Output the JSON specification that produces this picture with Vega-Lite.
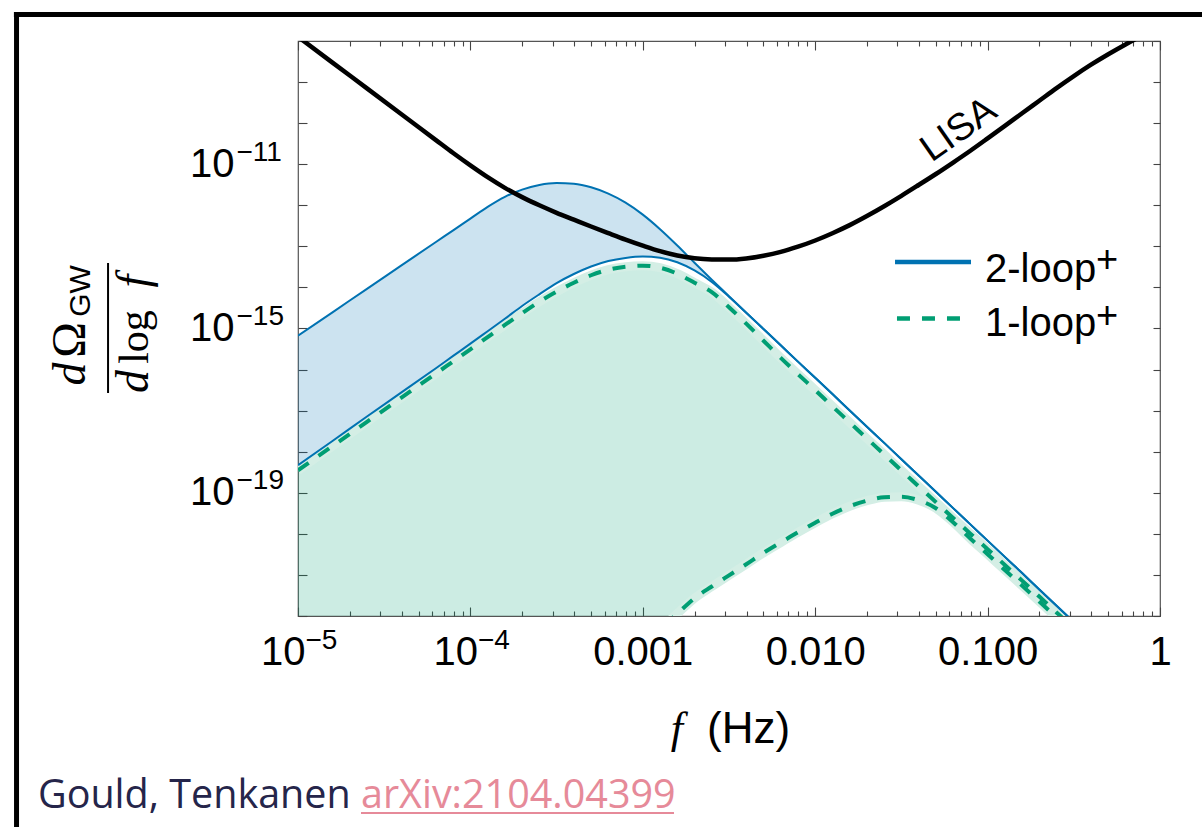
{
  "$schema": "https://vega.github.io/schema/vega-lite/v6.json",
  "width": 862,
  "height": 575,
  "autosize": {"type": "none"},
  "padding": {"left": 298, "top": 41, "right": 42, "bottom": 211},
  "background": "white",
  "config": {
    "view": {"stroke": "#555555", "strokeWidth": 1.2},
    "axis": {"domain": false, "grid": false, "tickColor": "#444444", "tickWidth": 1.1, "labelFont": "Liberation Sans", "labelFontSize": 40, "labelColor": "#000000", "labelOverlap": false, "labelFlush": false, "title": null},
    "text": {"font": "Liberation Sans", "color": "#000000"}
  },
  "resolve": {"axis": {"x": "independent", "y": "independent"}},
  "datasets": {
    "bands": [
      {"f": 1e-5, "series": "2-loop⁺", "hi": 6.67e-16, "lo": 4.69e-19},
      {"f": 1.585e-5, "series": "2-loop⁺", "hi": 2.48e-15, "lo": 1.82e-18},
      {"f": 2.512e-5, "series": "2-loop⁺", "hi": 9.26e-15, "lo": 7.19e-18},
      {"f": 3.981e-5, "series": "2-loop⁺", "hi": 3.44e-14, "lo": 2.78e-17},
      {"f": 6.31e-5, "series": "2-loop⁺", "hi": 1.28e-13, "lo": 1.08e-16},
      {"f": 7.943e-5, "series": "2-loop⁺", "hi": 2.46e-13, "lo": 2.15e-16},
      {"f": 1e-4, "series": "2-loop⁺", "hi": 4.74e-13, "lo": 4.27e-16},
      {"f": 1.259e-4, "series": "2-loop⁺", "hi": 9.13e-13, "lo": 8.59e-16},
      {"f": 1.585e-4, "series": "2-loop⁺", "hi": 1.6e-12, "lo": 1.73e-15},
      {"f": 1.995e-4, "series": "2-loop⁺", "hi": 2.4e-12, "lo": 3.53e-15},
      {"f": 2.512e-4, "series": "2-loop⁺", "hi": 3.11e-12, "lo": 6.79e-15},
      {"f": 3.162e-4, "series": "2-loop⁺", "hi": 3.47e-12, "lo": 1.27e-14},
      {"f": 3.981e-4, "series": "2-loop⁺", "hi": 3.33e-12, "lo": 2.12e-14},
      {"f": 5.012e-4, "series": "2-loop⁺", "hi": 2.74e-12, "lo": 3.23e-14},
      {"f": 6.31e-4, "series": "2-loop⁺", "hi": 1.92e-12, "lo": 4.4e-14},
      {"f": 7.943e-4, "series": "2-loop⁺", "hi": 1.16e-12, "lo": 5.24e-14},
      {"f": 1e-3, "series": "2-loop⁺", "hi": 5.93e-13, "lo": 5.66e-14},
      {"f": 1.259e-3, "series": "2-loop⁺", "hi": 2.62e-13, "lo": 5.3e-14},
      {"f": 1.585e-3, "series": "2-loop⁺", "hi": 1.05e-13, "lo": 4.11e-14},
      {"f": 1.995e-3, "series": "2-loop⁺", "hi": 3.98e-14, "lo": 2.59e-14},
      {"f": 2.512e-3, "series": "2-loop⁺", "hi": 1.54e-14, "lo": 1.36e-14},
      {"f": 3.162e-3, "series": "2-loop⁺", "hi": 6.11e-15, "lo": 5.94e-15},
      {"f": 3.981e-3, "series": "2-loop⁺", "hi": 2.42e-15, "lo": 2.42e-15},
      {"f": 5.012e-3, "series": "2-loop⁺", "hi": 9.72e-16, "lo": 9.72e-16},
      {"f": 6.31e-3, "series": "2-loop⁺", "hi": 3.9e-16, "lo": 3.9e-16},
      {"f": 7.943e-3, "series": "2-loop⁺", "hi": 1.56e-16, "lo": 1.56e-16},
      {"f": 0.01, "series": "2-loop⁺", "hi": 6.3e-17, "lo": 6.3e-17},
      {"f": 0.01259, "series": "2-loop⁺", "hi": 2.53e-17, "lo": 2.53e-17},
      {"f": 0.01585, "series": "2-loop⁺", "hi": 1.01e-17, "lo": 1.01e-17},
      {"f": 0.01995, "series": "2-loop⁺", "hi": 4.06e-18, "lo": 4.06e-18},
      {"f": 0.02512, "series": "2-loop⁺", "hi": 1.64e-18, "lo": 1.64e-18},
      {"f": 0.03162, "series": "2-loop⁺", "hi": 6.53e-19, "lo": 6.53e-19},
      {"f": 0.03981, "series": "2-loop⁺", "hi": 2.63e-19, "lo": 2.63e-19},
      {"f": 0.05012, "series": "2-loop⁺", "hi": 1.06e-19, "lo": 1.06e-19},
      {"f": 0.0631, "series": "2-loop⁺", "hi": 4.23e-20, "lo": 4.23e-20},
      {"f": 0.07943, "series": "2-loop⁺", "hi": 1.7e-20, "lo": 1.7e-20},
      {"f": 0.1, "series": "2-loop⁺", "hi": 6.84e-21, "lo": 6.84e-21},
      {"f": 0.1259, "series": "2-loop⁺", "hi": 2.75e-21, "lo": 2.75e-21},
      {"f": 0.1585, "series": "2-loop⁺", "hi": 1.11e-21, "lo": 1.11e-21},
      {"f": 0.1995, "series": "2-loop⁺", "hi": 4.41e-22, "lo": 4.41e-22},
      {"f": 0.2512, "series": "2-loop⁺", "hi": 1.78e-22, "lo": 1.78e-22},
      {"f": 0.3162, "series": "2-loop⁺", "hi": 7.13e-23, "lo": 7.13e-23},
      {"f": 1e-5, "series": "1-loop⁺", "hi": 3.54e-19, "lo": 2.6e-29},
      {"f": 1.585e-5, "series": "1-loop⁺", "hi": 1.37e-18, "lo": 9.8e-29},
      {"f": 2.512e-5, "series": "1-loop⁺", "hi": 5.32e-18, "lo": 3.6e-28},
      {"f": 3.981e-5, "series": "1-loop⁺", "hi": 2.07e-17, "lo": 1.35e-27},
      {"f": 6.31e-5, "series": "1-loop⁺", "hi": 8.02e-17, "lo": 5.0e-27},
      {"f": 1e-4, "series": "1-loop⁺", "hi": 3.11e-16, "lo": 1.9e-26},
      {"f": 1.259e-4, "series": "1-loop⁺", "hi": 6.17e-16, "lo": 3.6e-26},
      {"f": 1.585e-4, "series": "1-loop⁺", "hi": 1.22e-15, "lo": 7.1e-26},
      {"f": 1.995e-4, "series": "1-loop⁺", "hi": 2.36e-15, "lo": 1.4e-25},
      {"f": 2.512e-4, "series": "1-loop⁺", "hi": 4.49e-15, "lo": 2.7e-25},
      {"f": 3.162e-4, "series": "1-loop⁺", "hi": 7.87e-15, "lo": 5.2e-25},
      {"f": 3.981e-4, "series": "1-loop⁺", "hi": 1.3e-14, "lo": 1.05e-24},
      {"f": 5.012e-4, "series": "1-loop⁺", "hi": 1.98e-14, "lo": 2.1e-24},
      {"f": 6.31e-4, "series": "1-loop⁺", "hi": 2.7e-14, "lo": 4.3e-24},
      {"f": 7.943e-4, "series": "1-loop⁺", "hi": 3.19e-14, "lo": 8.9e-24},
      {"f": 1e-3, "series": "1-loop⁺", "hi": 3.38e-14, "lo": 1.89e-23},
      {"f": 1.259e-3, "series": "1-loop⁺", "hi": 3.02e-14, "lo": 4.76e-23},
      {"f": 1.585e-3, "series": "1-loop⁺", "hi": 2.16e-14, "lo": 1.14e-22},
      {"f": 1.995e-3, "series": "1-loop⁺", "hi": 1.3e-14, "lo": 2.71e-22},
      {"f": 2.512e-3, "series": "1-loop⁺", "hi": 7.66e-15, "lo": 5.22e-22},
      {"f": 3.162e-3, "series": "1-loop⁺", "hi": 3.3e-15, "lo": 9.77e-22},
      {"f": 3.981e-3, "series": "1-loop⁺", "hi": 1.31e-15, "lo": 1.82e-21},
      {"f": 5.012e-3, "series": "1-loop⁺", "hi": 5.04e-16, "lo": 3.45e-21},
      {"f": 6.31e-3, "series": "1-loop⁺", "hi": 1.93e-16, "lo": 6.15e-21},
      {"f": 7.943e-3, "series": "1-loop⁺", "hi": 7.76e-17, "lo": 1.09e-20},
      {"f": 0.01, "series": "1-loop⁺", "hi": 3.16e-17, "lo": 1.87e-20},
      {"f": 0.01259, "series": "1-loop⁺", "hi": 1.27e-17, "lo": 3.09e-20},
      {"f": 0.01585, "series": "1-loop⁺", "hi": 5.17e-18, "lo": 4.71e-20},
      {"f": 0.01995, "series": "1-loop⁺", "hi": 2.1e-18, "lo": 6.41e-20},
      {"f": 0.02512, "series": "1-loop⁺", "hi": 8.6e-19, "lo": 7.8e-20},
      {"f": 0.03162, "series": "1-loop⁺", "hi": 3.49e-19, "lo": 8.02e-20},
      {"f": 0.03981, "series": "1-loop⁺", "hi": 1.44e-19, "lo": 6.59e-20},
      {"f": 0.05012, "series": "1-loop⁺", "hi": 5.93e-20, "lo": 4.21e-20},
      {"f": 0.0631, "series": "1-loop⁺", "hi": 2.44e-20, "lo": 1.92e-20},
      {"f": 0.07943, "series": "1-loop⁺", "hi": 1.01e-20, "lo": 7.66e-21},
      {"f": 0.1, "series": "1-loop⁺", "hi": 4.23e-21, "lo": 3.19e-21},
      {"f": 0.1259, "series": "1-loop⁺", "hi": 1.75e-21, "lo": 1.32e-21},
      {"f": 0.1585, "series": "1-loop⁺", "hi": 7.27e-22, "lo": 5.49e-22},
      {"f": 0.1995, "series": "1-loop⁺", "hi": 2.98e-22, "lo": 2.25e-22},
      {"f": 0.2512, "series": "1-loop⁺", "hi": 1.22e-22, "lo": 9.18e-23},
      {"f": 0.3162, "series": "1-loop⁺", "hi": 4.96e-23, "lo": 3.75e-23}
    ],
    "lisa": [
      {"f": 1e-5, "omega": 1.27e-8},
      {"f": 1.585e-5, "omega": 2.98e-9},
      {"f": 2.512e-5, "omega": 7.02e-10},
      {"f": 3.981e-5, "omega": 1.65e-10},
      {"f": 6.31e-5, "omega": 3.86e-11},
      {"f": 7.943e-5, "omega": 1.87e-11},
      {"f": 1e-4, "omega": 9.35e-12},
      {"f": 1.259e-4, "omega": 4.83e-12},
      {"f": 1.585e-4, "omega": 2.66e-12},
      {"f": 1.995e-4, "omega": 1.58e-12},
      {"f": 2.512e-4, "omega": 9.99e-13},
      {"f": 3.162e-4, "omega": 6.56e-13},
      {"f": 3.981e-4, "omega": 4.46e-13},
      {"f": 5.012e-4, "omega": 3.04e-13},
      {"f": 6.31e-4, "omega": 2.1e-13},
      {"f": 7.943e-4, "omega": 1.46e-13},
      {"f": 1e-3, "omega": 1.04e-13},
      {"f": 1.259e-3, "omega": 7.62e-14},
      {"f": 1.585e-3, "omega": 6.0e-14},
      {"f": 1.995e-3, "omega": 5.15e-14},
      {"f": 2.512e-3, "omega": 4.81e-14},
      {"f": 3.162e-3, "omega": 4.76e-14},
      {"f": 3.981e-3, "omega": 5.09e-14},
      {"f": 5.012e-3, "omega": 5.92e-14},
      {"f": 6.31e-3, "omega": 7.32e-14},
      {"f": 7.943e-3, "omega": 9.81e-14},
      {"f": 0.01, "omega": 1.39e-13},
      {"f": 0.01259, "omega": 2.09e-13},
      {"f": 0.01585, "omega": 3.29e-13},
      {"f": 0.01995, "omega": 5.48e-13},
      {"f": 0.02512, "omega": 9.5e-13},
      {"f": 0.03162, "omega": 1.7e-12},
      {"f": 0.03981, "omega": 3.12e-12},
      {"f": 0.05012, "omega": 5.78e-12},
      {"f": 0.0631, "omega": 1.1e-11},
      {"f": 0.07943, "omega": 2.13e-11},
      {"f": 0.1, "omega": 4.25e-11},
      {"f": 0.1259, "omega": 8.57e-11},
      {"f": 0.1585, "omega": 1.74e-10},
      {"f": 0.1995, "omega": 3.52e-10},
      {"f": 0.2512, "omega": 7.13e-10},
      {"f": 0.3162, "omega": 1.4e-9},
      {"f": 0.3981, "omega": 2.65e-9},
      {"f": 0.5012, "omega": 4.77e-9},
      {"f": 0.631, "omega": 8.26e-9},
      {"f": 0.7943, "omega": 1.38e-8},
      {"f": 1, "omega": 2.28e-8}
    ]
  },
  "layer": [
    {
      "data": {"name": "bands"},
      "mark": {"type": "area", "clip": true, "interpolate": "monotone", "fillOpacity": 0.2},
      "encoding": {
        "x": {"field": "f", "type": "quantitative", "scale": {"type": "log", "domain": [1e-5, 1], "nice": false},
          "axis": {"orient": "bottom", "values": [1e-5, 1e-4, 0.001, 0.01, 0.1, 1], "tickSize": -9, "labelPadding": 25,
            "labelAlign": {"condition": {"test": "datum.value < 0.0005", "value": "right"}, "value": "center"},
            "labelOffset": {"condition": {"test": "datum.value < 0.0005", "value": 7}, "value": 0},
            "labelExpr": "datum.value < 0.0005 ? '10' : datum.value < 0.002 ? '0.001' : datum.value < 0.02 ? '0.010' : datum.value < 0.2 ? '0.100' : '1'"}},
        "y": {"field": "hi", "type": "quantitative", "stack": null, "scale": {"type": "log", "domain": [1e-22, 1e-8], "nice": false},
          "axis": {"orient": "left", "tickSize": -9, "labelPadding": 73,
            "values": [1e-22, 1e-21, 1e-20, 1e-19, 1e-18, 1e-17, 1e-16, 1e-15, 1e-14, 1e-13, 1e-12, 1e-11, 1e-10, 1e-9, 1e-8],
            "labelExpr": "round(log(datum.value) / LN10) == -11 || round(log(datum.value) / LN10) == -15 || round(log(datum.value) / LN10) == -19 ? '10' : ''"}},
        "y2": {"field": "lo"},
        "fill": {"field": "series", "type": "nominal", "scale": {"domain": ["2-loop⁺", "1-loop⁺"], "range": ["#0072B2", "#009E73"]}, "legend": null}
      }
    },
    {
      "data": {"name": "bands"},
      "transform": [
        {"filter": {"field": "series", "equal": "1-loop⁺"}},
        {"fold": ["hi", "lo"], "as": ["bound", "omega"]}
      ],
      "mark": {"type": "line", "clip": true, "interpolate": "monotone", "color": "#d4eee5", "strokeWidth": 9},
      "encoding": {
        "x": {"field": "f", "type": "quantitative", "scale": {"type": "log", "domain": [1e-5, 1], "nice": false},
          "axis": {"orient": "bottom", "labels": false, "tickSize": -5,
            "values": [2e-5, 3e-5, 4e-5, 5e-5, 6e-5, 7e-5, 8e-5, 9e-5, 2e-4, 3e-4, 4e-4, 5e-4, 6e-4, 7e-4, 8e-4, 9e-4, 0.002, 0.003, 0.004, 0.005, 0.006, 0.007, 0.008, 0.009, 0.02, 0.03, 0.04, 0.05, 0.06, 0.07, 0.08, 0.09, 0.2, 0.3, 0.4, 0.5, 0.6, 0.7, 0.8, 0.9]}},
        "y": {"field": "omega", "type": "quantitative", "scale": {"type": "log", "domain": [1e-22, 1e-8], "nice": false},
          "axis": {"orient": "right", "labels": false, "tickSize": -7,
            "values": [1e-22, 1e-21, 1e-20, 1e-19, 1e-18, 1e-17, 1e-16, 1e-15, 1e-14, 1e-13, 1e-12, 1e-11, 1e-10, 1e-9, 1e-8]}},
        "detail": {"field": "bound"}
      }
    },
    {
      "data": {"name": "bands"},
      "transform": [
        {"filter": {"field": "series", "equal": "2-loop⁺"}},
        {"fold": ["hi", "lo"], "as": ["bound", "omega"]}
      ],
      "mark": {"type": "line", "clip": true, "interpolate": "monotone", "strokeWidth": 2},
      "encoding": {
        "x": {"field": "f", "type": "quantitative", "scale": {"type": "log", "domain": [1e-5, 1], "nice": false},
          "axis": {"orient": "top", "labels": false, "tickSize": -9, "values": [1e-5, 1e-4, 0.001, 0.01, 0.1, 1]}},
        "y": {"field": "omega", "type": "quantitative", "scale": {"type": "log", "domain": [1e-22, 1e-8], "nice": false},
          "axis": {"orient": "left", "ticks": false, "values": [1e-19, 1e-15, 1e-11], "labelAlign": "left", "labelPadding": 62, "labelOffset": -12, "labelFontSize": 28,
            "labelExpr": "round(log(datum.value) / LN10) == -11 ? '−11' : round(log(datum.value) / LN10) == -15 ? '−15' : '−19'"}},
        "detail": {"field": "bound"},
        "color": {"field": "series", "type": "nominal", "scale": {"domain": ["2-loop⁺", "1-loop⁺"], "range": ["#0072B2", "#009E73"]}, "legend": null}
      }
    },
    {
      "data": {"name": "bands"},
      "transform": [
        {"filter": {"field": "series", "equal": "1-loop⁺"}},
        {"fold": ["hi", "lo"], "as": ["bound", "omega"]}
      ],
      "mark": {"type": "line", "clip": true, "interpolate": "monotone", "strokeWidth": 4, "strokeDash": [13, 12]},
      "encoding": {
        "x": {"field": "f", "type": "quantitative", "scale": {"type": "log", "domain": [1e-5, 1], "nice": false},
          "axis": {"orient": "top", "labels": false, "tickSize": -5,
            "values": [2e-5, 3e-5, 4e-5, 5e-5, 6e-5, 7e-5, 8e-5, 9e-5, 2e-4, 3e-4, 4e-4, 5e-4, 6e-4, 7e-4, 8e-4, 9e-4, 0.002, 0.003, 0.004, 0.005, 0.006, 0.007, 0.008, 0.009, 0.02, 0.03, 0.04, 0.05, 0.06, 0.07, 0.08, 0.09, 0.2, 0.3, 0.4, 0.5, 0.6, 0.7, 0.8, 0.9]}},
        "y": {"field": "omega", "type": "quantitative", "scale": {"type": "log", "domain": [1e-22, 1e-8], "nice": false}, "axis": null},
        "detail": {"field": "bound"},
        "color": {"field": "series", "type": "nominal", "scale": {"domain": ["2-loop⁺", "1-loop⁺"], "range": ["#0072B2", "#009E73"]}, "legend": null}
      }
    },
    {
      "data": {"name": "lisa"},
      "mark": {"type": "line", "clip": true, "interpolate": "monotone", "color": "#000000", "strokeWidth": 4.5},
      "encoding": {
        "x": {"field": "f", "type": "quantitative", "scale": {"type": "log", "domain": [1e-5, 1], "nice": false},
          "axis": {"orient": "bottom", "ticks": false, "values": [1e-5, 1e-4], "labelAlign": "left", "labelOffset": 7, "labelPadding": 10, "labelFontSize": 28,
            "labelExpr": "datum.value < 0.00005 ? '−5' : '−4'"}},
        "y": {"field": "omega", "type": "quantitative", "scale": {"type": "log", "domain": [1e-22, 1e-8], "nice": false}, "axis": null}
      }
    },
    {
      "data": {"values": [{"label": "LISA"}]},
      "mark": {"type": "text", "angle": 325, "fontSize": 38, "align": "center", "baseline": "middle"},
      "encoding": {
        "x": {"datum": 0.0682, "type": "quantitative", "scale": {"type": "log", "domain": [1e-5, 1], "nice": false}, "axis": null},
        "y": {"datum": 6.81e-11, "type": "quantitative", "scale": {"type": "log", "domain": [1e-22, 1e-8], "nice": false}, "axis": null},
        "text": {"field": "label"}
      }
    },
    {
      "data": {"values": [{"series": "2-loop⁺"}]},
      "mark": {"type": "rule", "color": "#0072B2", "strokeWidth": 4.5},
      "encoding": {
        "x": {"datum": 0.02904, "type": "quantitative", "scale": {"type": "log", "domain": [1e-5, 1], "nice": false}, "axis": null},
        "x2": {"datum": 0.08012},
        "y": {"datum": 4.16e-14, "type": "quantitative", "scale": {"type": "log", "domain": [1e-22, 1e-8], "nice": false}, "axis": null}
      }
    },
    {
      "data": {"values": [{"series": "1-loop⁺"}]},
      "mark": {"type": "rule", "color": "#009E73", "strokeWidth": 4.5, "strokeDash": [13, 12]},
      "encoding": {
        "x": {"datum": 0.02981, "type": "quantitative", "scale": {"type": "log", "domain": [1e-5, 1], "nice": false}, "axis": null},
        "x2": {"datum": 0.0692},
        "y": {"datum": 1.75e-15, "type": "quantitative", "scale": {"type": "log", "domain": [1e-22, 1e-8], "nice": false}, "axis": null}
      }
    },
    {
      "data": {"values": [{"label": "2-loop"}]},
      "mark": {"type": "text", "fontSize": 40, "align": "left", "baseline": "alphabetic"},
      "encoding": {
        "x": {"datum": 0.0966, "type": "quantitative", "scale": {"type": "log", "domain": [1e-5, 1], "nice": false}, "axis": null},
        "y": {"datum": 1.355e-14, "type": "quantitative", "scale": {"type": "log", "domain": [1e-22, 1e-8], "nice": false}, "axis": null},
        "text": {"field": "label"}
      }
    },
    {
      "data": {"values": [{"label": "1-loop"}]},
      "mark": {"type": "text", "fontSize": 40, "align": "left", "baseline": "alphabetic"},
      "encoding": {
        "x": {"datum": 0.0966, "type": "quantitative", "scale": {"type": "log", "domain": [1e-5, 1], "nice": false}, "axis": null},
        "y": {"datum": 6.56e-16, "type": "quantitative", "scale": {"type": "log", "domain": [1e-22, 1e-8], "nice": false}, "axis": null},
        "text": {"field": "label"}
      }
    },
    {
      "data": {"values": [{"label": "+"}]},
      "mark": {"type": "text", "fontSize": 38, "align": "left", "baseline": "alphabetic"},
      "encoding": {
        "x": {"datum": 0.4253, "type": "quantitative", "scale": {"type": "log", "domain": [1e-5, 1], "nice": false}, "axis": null},
        "y": {"datum": 2.44e-14, "type": "quantitative", "scale": {"type": "log", "domain": [1e-22, 1e-8], "nice": false}, "axis": null},
        "text": {"field": "label"}
      }
    },
    {
      "data": {"values": [{"label": "+"}]},
      "mark": {"type": "text", "fontSize": 38, "align": "left", "baseline": "alphabetic"},
      "encoding": {
        "x": {"datum": 0.4253, "type": "quantitative", "scale": {"type": "log", "domain": [1e-5, 1], "nice": false}, "axis": null},
        "y": {"datum": 1.03e-15, "type": "quantitative", "scale": {"type": "log", "domain": [1e-22, 1e-8], "nice": false}, "axis": null},
        "text": {"field": "label"}
      }
    },
    {
      "data": {"values": [{"label": "f"}]},
      "mark": {"type": "text", "font": "Liberation Serif", "fontStyle": "italic", "fontSize": 44, "align": "center", "baseline": "alphabetic"},
      "encoding": {
        "x": {"datum": 1.578e-3, "type": "quantitative", "scale": {"type": "log", "domain": [1e-5, 1], "nice": false}, "axis": null},
        "y": {"datum": 8.07e-26, "type": "quantitative", "scale": {"type": "log", "domain": [1e-22, 1e-8], "nice": false}, "axis": null},
        "text": {"field": "label"}
      }
    },
    {
      "data": {"values": [{"label": "(Hz)"}]},
      "mark": {"type": "text", "fontSize": 44, "align": "left", "baseline": "alphabetic"},
      "encoding": {
        "x": {"datum": 2.36e-3, "type": "quantitative", "scale": {"type": "log", "domain": [1e-5, 1], "nice": false}, "axis": null},
        "y": {"datum": 8.07e-26, "type": "quantitative", "scale": {"type": "log", "domain": [1e-22, 1e-8], "nice": false}, "axis": null},
        "text": {"field": "label"}
      }
    },
    {
      "data": {"values": [{"label": "d"}]},
      "mark": {"type": "text", "angle": 270, "font": "Liberation Serif", "fontStyle": "italic", "fontSize": 46, "align": "center", "baseline": "alphabetic"},
      "encoding": {
        "x": {"datum": 5.81e-7, "type": "quantitative", "scale": {"type": "log", "domain": [1e-5, 1], "nice": false}, "axis": null},
        "y": {"datum": 7.8e-17, "type": "quantitative", "scale": {"type": "log", "domain": [1e-22, 1e-8], "nice": false}, "axis": null},
        "text": {"field": "label"}
      }
    },
    {
      "data": {"values": [{"label": "Ω"}]},
      "mark": {"type": "text", "angle": 270, "font": "Liberation Serif", "fontSize": 48, "align": "center", "baseline": "alphabetic"},
      "encoding": {
        "x": {"datum": 5.81e-7, "type": "quantitative", "scale": {"type": "log", "domain": [1e-5, 1], "nice": false}, "axis": null},
        "y": {"datum": 5.25e-16, "type": "quantitative", "scale": {"type": "log", "domain": [1e-22, 1e-8], "nice": false}, "axis": null},
        "text": {"field": "label"}
      }
    },
    {
      "data": {"values": [{"label": "GW"}]},
      "mark": {"type": "text", "angle": 270, "fontSize": 30, "align": "center", "baseline": "alphabetic"},
      "encoding": {
        "x": {"datum": 6.21e-7, "type": "quantitative", "scale": {"type": "log", "domain": [1e-5, 1], "nice": false}, "axis": null},
        "y": {"datum": 8.18e-15, "type": "quantitative", "scale": {"type": "log", "domain": [1e-22, 1e-8], "nice": false}, "axis": null},
        "text": {"field": "label"}
      }
    },
    {
      "data": {"values": [{"part": "fraction bar"}]},
      "mark": {"type": "rule", "color": "#000000", "strokeWidth": 2},
      "encoding": {
        "x": {"datum": 7.91e-7, "type": "quantitative", "scale": {"type": "log", "domain": [1e-5, 1], "nice": false}, "axis": null},
        "y": {"datum": 3.94e-14, "type": "quantitative", "scale": {"type": "log", "domain": [1e-22, 1e-8], "nice": false}, "axis": null},
        "y2": {"datum": 2.69e-17}
      }
    },
    {
      "data": {"values": [{"label": "d"}]},
      "mark": {"type": "text", "angle": 270, "font": "Liberation Serif", "fontStyle": "italic", "fontSize": 46, "align": "center", "baseline": "alphabetic"},
      "encoding": {
        "x": {"datum": 1.34e-6, "type": "quantitative", "scale": {"type": "log", "domain": [1e-5, 1], "nice": false}, "axis": null},
        "y": {"datum": 5.12e-17, "type": "quantitative", "scale": {"type": "log", "domain": [1e-22, 1e-8], "nice": false}, "axis": null},
        "text": {"field": "label"}
      }
    },
    {
      "data": {"values": [{"label": "log"}]},
      "mark": {"type": "text", "angle": 270, "font": "Liberation Serif", "fontSize": 42, "align": "center", "baseline": "alphabetic"},
      "encoding": {
        "x": {"datum": 1.34e-6, "type": "quantitative", "scale": {"type": "log", "domain": [1e-5, 1], "nice": false}, "axis": null},
        "y": {"datum": 6.21e-16, "type": "quantitative", "scale": {"type": "log", "domain": [1e-22, 1e-8], "nice": false}, "axis": null},
        "text": {"field": "label"}
      }
    },
    {
      "data": {"values": [{"label": "f"}]},
      "mark": {"type": "text", "angle": 270, "font": "Liberation Serif", "fontStyle": "italic", "fontSize": 46, "align": "center", "baseline": "alphabetic"},
      "encoding": {
        "x": {"datum": 1.34e-6, "type": "quantitative", "scale": {"type": "log", "domain": [1e-5, 1], "nice": false}, "axis": null},
        "y": {"datum": 1.43e-14, "type": "quantitative", "scale": {"type": "log", "domain": [1e-22, 1e-8], "nice": false}, "axis": null},
        "text": {"field": "label"}
      }
    },
    {
      "data": {"values": [{"label": "Gould, Tenkanen"}]},
      "mark": {"type": "text", "font": "Open Sans", "fontSize": 39.5, "align": "left", "baseline": "alphabetic", "color": "#25254a"},
      "encoding": {
        "x": {"datum": 3.1e-7, "type": "quantitative", "scale": {"type": "log", "domain": [1e-5, 1], "nice": false}, "axis": null},
        "y": {"datum": 2.11e-27, "type": "quantitative", "scale": {"type": "log", "domain": [1e-22, 1e-8], "nice": false}, "axis": null},
        "text": {"field": "label"}
      }
    },
    {
      "data": {"values": [{"label": "arXiv:2104.04399"}]},
      "mark": {"type": "text", "font": "Open Sans", "fontSize": 39.5, "align": "left", "baseline": "alphabetic", "color": "#e68a99"},
      "encoding": {
        "x": {"datum": 2.32e-5, "type": "quantitative", "scale": {"type": "log", "domain": [1e-5, 1], "nice": false}, "axis": null},
        "y": {"datum": 2.11e-27, "type": "quantitative", "scale": {"type": "log", "domain": [1e-22, 1e-8], "nice": false}, "axis": null},
        "text": {"field": "label"}
      }
    },
    {
      "data": {"values": [{"part": "link underline"}]},
      "mark": {"type": "rule", "color": "#e68a99", "strokeWidth": 2},
      "encoding": {
        "x": {"datum": 2.32e-5, "type": "quantitative", "scale": {"type": "log", "domain": [1e-5, 1], "nice": false}, "axis": null},
        "x2": {"datum": 1.517e-3},
        "y": {"datum": 1.6e-27, "type": "quantitative", "scale": {"type": "log", "domain": [1e-22, 1e-8], "nice": false}, "axis": null}
      }
    },
    {
      "data": {"values": [{"part": "frame top"}]},
      "mark": {"type": "rule", "color": "#000000", "strokeWidth": 5},
      "encoding": {
        "x": {"datum": 2.25e-7, "type": "quantitative", "scale": {"type": "log", "domain": [1e-5, 1], "nice": false}, "axis": null},
        "x2": {"datum": 1.95},
        "y": {"datum": 4.42e-8, "type": "quantitative", "scale": {"type": "log", "domain": [1e-22, 1e-8], "nice": false}, "axis": null}
      }
    },
    {
      "data": {"values": [{"part": "frame left"}]},
      "mark": {"type": "rule", "color": "#000000", "strokeWidth": 5},
      "encoding": {
        "x": {"datum": 2.33e-7, "type": "quantitative", "scale": {"type": "log", "domain": [1e-5, 1], "nice": false}, "axis": null},
        "y": {"datum": 5.08e-8, "type": "quantitative", "scale": {"type": "log", "domain": [1e-22, 1e-8], "nice": false}, "axis": null},
        "y2": {"datum": 3.5e-28}
      }
    }
  ]
}
